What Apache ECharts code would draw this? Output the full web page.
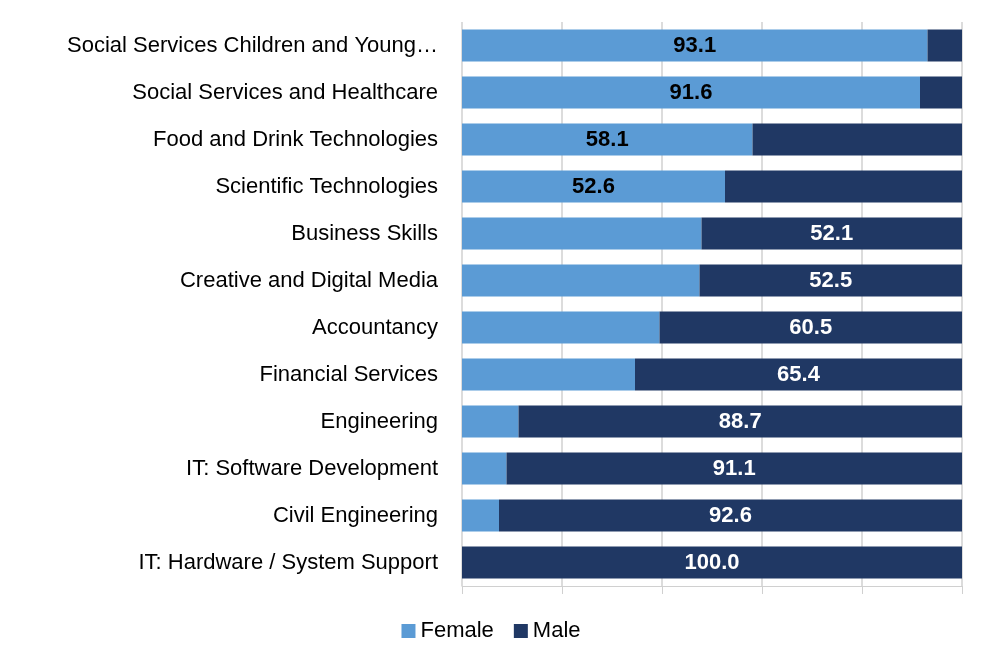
<!DOCTYPE html>
<html><head><meta charset="utf-8">
<script src="https://cdn.jsdelivr.net/npm/echarts@6/dist/echarts.min.js"></script>
<style>html,body{margin:0;padding:0;background:#fff}#c{width:982px;height:659px}</style>
</head><body><div id="c"></div>
<script>
const categories = ["Social Services Children and Young…","Social Services and Healthcare","Food and Drink Technologies","Scientific Technologies","Business Skills","Creative and Digital Media","Accountancy","Financial Services","Engineering","IT: Software Development","Civil Engineering","IT: Hardware / System Support"];
const female = [93.1,91.6,58.1,52.6,47.9,47.5,39.5,34.6,11.3,8.9,7.4,0];
const male = [6.9,8.4,41.9,47.4,52.1,52.5,60.5,65.4,88.7,91.1,92.6,100.0];
const showFemale = [true,true,true,true,false,false,false,false,false,false,false,false];
const cats = categories.slice().reverse();
const f = female.slice().reverse().map((v,i)=>({value:v,label:{show:showFemale.slice().reverse()[i]}}));
const m = male.slice().reverse().map((v,i)=>({value:v,label:{show:!showFemale.slice().reverse()[i]}}));
const font = 'Liberation Sans, Arial, sans-serif';
const chart = echarts.init(document.getElementById('c'));
chart.setOption({
  animation:false,
  grid:{left:462,right:20,top:22,bottom:73},
  legend:{bottom:12,left:'center',itemWidth:14,itemHeight:14,itemGap:20,icon:'rect',textStyle:{fontSize:22,fontFamily:font,color:'#000'},data:['Female','Male']},
  xAxis:{type:'value',min:0,max:100,interval:20,axisLabel:{show:false},splitLine:{lineStyle:{color:'#d0d0d0',width:1.5}},axisTick:{show:true,length:8,lineStyle:{color:'#d0d0d0'}},axisLine:{show:true,lineStyle:{color:'#d0d0d0'}}},
  yAxis:{type:'category',data:cats,axisLine:{show:false},axisTick:{show:false},axisLabel:{fontSize:22,fontFamily:font,color:'#000',margin:24}},
  series:[
    {name:'Female',type:'bar',stack:'a',data:f,barWidth:32,itemStyle:{color:'#5B9BD5'},label:{position:'inside',fontSize:22,fontWeight:'bold',fontFamily:font,color:'#000',formatter:p=>p.value.toFixed(1)}},
    {name:'Male',type:'bar',stack:'a',data:m,barWidth:32,itemStyle:{color:'#203864'},label:{position:'inside',fontSize:22,fontWeight:'bold',fontFamily:font,color:'#fff',formatter:p=>p.value.toFixed(1)}}
  ]
});
</script></body></html>
